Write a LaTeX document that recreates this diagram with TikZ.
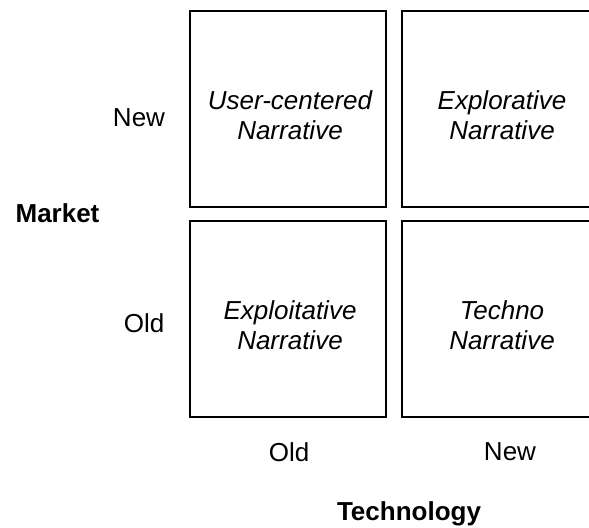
\documentclass[tikz,border=0pt]{standalone}
\usepackage{fontspec}
\setmainfont{Liberation Sans}
\begin{document}
\begin{tikzpicture}[x=0.5pt,y=-0.5pt,
  cell/.style={draw, line width=1pt, minimum width=98pt, minimum height=98pt, inner sep=0pt},
  celltext/.style={align=center, font=\fontsize{13}{15}\selectfont\itshape, inner sep=0pt},
  axlabel/.style={font=\fontsize{13}{15}\selectfont, inner sep=0pt},
  axtitle/.style={font=\fontsize{13}{15}\selectfont\bfseries, inner sep=0pt}]
\useasboundingbox (0,0) rectangle (589,528);
\node[cell] (tl) at (288,109.5) {};
\node[cell] (tr) at (500,109.5) {};
\node[cell] (bl) at (288,319.5) {};
\node[cell] (br) at (500,319.5) {};
\node[celltext] (tlt) at (290,115.5) {User-centered\\Narrative};
\node[celltext] (trt) at (502,115.5) {Explorative\\Narrative};
\node[celltext] (blt) at (290,325.5) {Exploitative\\Narrative};
\node[celltext] (brt) at (502,325.5) {Techno\\Narrative};
\node[axlabel] (mnew) at (139,118) {New};
\node[axlabel] (mold) at (144,323) {Old};
\node[axtitle] (market) at (57.5,213) {Market};
\node[axlabel] (told) at (289,452) {Old};
\node[axlabel] (tnew) at (510,452) {New};
\node[axtitle] (tech) at (409,514) {Technology};
\end{tikzpicture}
\end{document}
